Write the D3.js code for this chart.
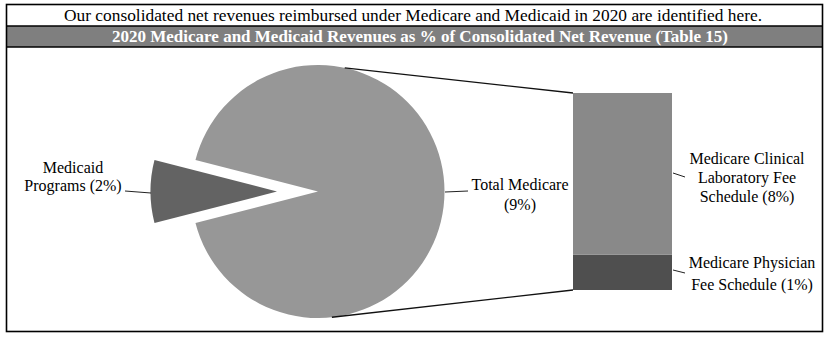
<!DOCTYPE html>
<html>
<head>
<meta charset="utf-8">
<script src="https://cdn.jsdelivr.net/npm/d3@7"></script>
<style>
  html, body { margin: 0; padding: 0; background: #fff; }
  svg { display: block; }
  text { font-family: "Liberation Serif", "Times New Roman", serif; fill: #000; }
</style>
</head>
<body>
<svg id="chart" width="825" height="340"></svg>
<script>
// ---- data ----
const introText = "Our consolidated net revenues reimbursed under Medicare and Medicaid in 2020 are identified here.";
const titleText = "2020 Medicare and Medicaid Revenues as % of Consolidated Net Revenue (Table 15)";
// main pie (share of the pie as drawn)
const pieCategories = ["Total Medicare", "Medicaid Programs"];
const pieShares = [92, 8];
const pieLabels = [["Total Medicare", "(9%)"], ["Medicaid", "Programs (2%)"]];
// secondary stacked bar (breakdown of Total Medicare)
const barCategories = ["Medicare Clinical Laboratory Fee Schedule", "Medicare Physician Fee Schedule"];
const barShares = [82, 18];
const barLabels = [["Medicare Clinical", "Laboratory Fee", "Schedule (8%)"], ["Medicare Physician", "Fee Schedule  (1%)"]];

// ---- layout ----
const svg = d3.select("#chart");
const frame = { left: 6.5, right: 822.5, top: 4.5, bottom: 331.5 };
const headTop = 26, headBottom = 47;

// frame & header
svg.append("rect").attr("x", frame.left).attr("y", headTop)
  .attr("width", frame.right - frame.left).attr("height", headBottom - headTop)
  .attr("fill", "#7f7f7f");
svg.append("rect").attr("x", frame.left).attr("y", frame.top)
  .attr("width", frame.right - frame.left).attr("height", frame.bottom - frame.top)
  .attr("fill", "none").attr("stroke", "#000").attr("stroke-width", 1.6);
[headTop, headBottom].forEach(y => svg.append("line")
  .attr("x1", frame.left).attr("x2", frame.right).attr("y1", y).attr("y2", y)
  .attr("stroke", "#000").attr("stroke-width", 1.6));

svg.append("text").attr("x", 413).attr("y", 20.5).attr("text-anchor", "middle")
  .attr("font-size", 16.5).attr("textLength", 698).attr("lengthAdjust", "spacingAndGlyphs")
  .text(introText);
svg.append("text").attr("x", 420).attr("y", 42).attr("text-anchor", "middle")
  .attr("font-size", 16.5).attr("font-weight", "bold").style("fill", "#fff")
  .attr("textLength", 616).attr("lengthAdjust", "spacingAndGlyphs")
  .text(titleText);

// ---- pie ----
const cx = 318, cy = 191.5, R = 126.5, explode = 41;
const total = d3.sum(pieShares);
// put the small slice centred on the left (270deg clockwise from 12 o'clock)
const smallFrac = pieShares[1] / total;
const start = 1.5 * Math.PI - (1 - smallFrac / 2) * 2 * Math.PI;
const pie = d3.pie().sort(null).startAngle(start).endAngle(start + 2 * Math.PI);
const arcs = pie(pieShares);
const arc = d3.arc().innerRadius(0).outerRadius(R);
const pieColors = ["#979797", "#636363"];

const g = svg.append("g").attr("transform", `translate(${cx},${cy})`);
g.selectAll("path").data(arcs).join("path")
  .attr("d", arc)
  .attr("fill", (d, i) => pieColors[i])
  .attr("transform", (d, i) => {
    if (i !== 1) return null;
    const a = (d.startAngle + d.endAngle) / 2;
    return `translate(${Math.sin(a) * explode},${-Math.cos(a) * explode})`;
  });

// ---- stacked bar ----
const barX = 573, barW = 99;
const yBar = d3.scaleLinear().domain([0, d3.sum(barShares)]).range([290, 93]);
const barColors = ["#898989", "#4f4f4f"];
let acc = 0;
const stacks = barShares.slice().reverse().map((v, k) => {
  const i = barShares.length - 1 - k;
  const s = { i, y0: acc, y1: acc + v };
  acc += v;
  return s;
});
svg.selectAll("rect.bar").data(stacks).join("rect").attr("class", "bar")
  .attr("x", barX).attr("width", barW)
  .attr("y", d => yBar(d.y1)).attr("height", d => yBar(d.y0) - yBar(d.y1))
  .attr("fill", d => barColors[d.i]);

// connector lines (pie edge to bar corners)
const topAng = 12.2 * Math.PI / 180, botAng = 173.7 * Math.PI / 180;
const conn = [
  [cx + Math.sin(topAng) * R, cy - Math.cos(topAng) * R, barX, yBar(d3.sum(barShares))],
  [cx + Math.sin(botAng) * R, cy - Math.cos(botAng) * R, barX, yBar(0)]
];
conn.forEach(c => svg.append("line")
  .attr("x1", c[0]).attr("y1", c[1]).attr("x2", c[2]).attr("y2", c[3])
  .attr("stroke", "#111").attr("stroke-width", 1.3));

// ---- labels ----
function label(lines, x, y0, lh) {
  const t = svg.append("text").attr("text-anchor", "middle").attr("font-size", 16)
    .attr("font-family", "'Liberation Serif', serif");
  lines.forEach((l, k) => t.append("tspan").attr("x", x).attr("y", y0 + k * lh).text(l));
}
function leader(x1, y1, x2, y2) {
  svg.append("line").attr("x1", x1).attr("y1", y1).attr("x2", x2).attr("y2", y2)
    .attr("stroke", "#222").attr("stroke-width", 1);
}
label(pieLabels[1], 73, 173, 17.5);
leader(125, 191, 151, 193);
label(pieLabels[0], 520, 190, 20);
leader(445, 192, 468, 191);
label(barLabels[0], 747, 164, 19);
leader(673, 173, 685, 177);
label(barLabels[1], 752, 268, 21.5);
leader(673, 270, 685, 273);
</script>
</body>
</html>
